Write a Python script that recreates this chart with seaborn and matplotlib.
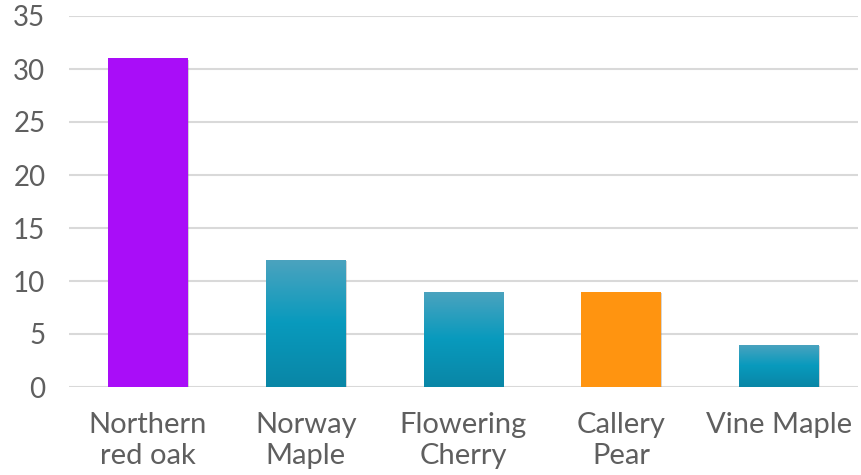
import matplotlib
matplotlib.use("Agg")
import matplotlib.pyplot as plt
import seaborn as sns
import numpy as np
import pandas as pd
from matplotlib import font_manager
from matplotlib.colors import LinearSegmentedColormap
import matplotlib.patheffects as pe

categories = ["Northern\nred oak", "Norway\nMaple", "Flowering\nCherry", "Callery\nPear", "Vine Maple"]
values = [31, 12, 9, 9, 4]
bar_colors = ["#A90DF8", "teal", "teal", "#FF9410", "teal"]
y_ticks = [0, 5, 10, 15, 20, 25, 30, 35]

sns.set_style("white")
names = {f.name for f in font_manager.fontManager.ttflist}
fam = "Lato" if "Lato" in names else "DejaVu Sans"
plt.rcParams['font.family'] = [fam, 'DejaVu Sans']

df = pd.DataFrame({"cat": categories, "val": values})
fig = plt.figure(figsize=(8.61, 4.75), dpi=100)
ax = fig.add_axes([69/861, 1-387/475, (858-69)/861, (387-16)/475])

sns.barplot(data=df, x="cat", y="val", ax=ax, width=0.505, color="#0899BC", zorder=3)
ax.set_ylim(0, 35)
ax.set_xlim(-0.5, 4.5)
ax.set_yticks(y_ticks)
ax.set_xlabel("")
ax.set_ylabel("")
for s in ax.spines.values():
    s.set_visible(False)
ax.grid(axis="y", color="#D9D9D9", linewidth=1.5, zorder=0)
ax.tick_params(axis="y", length=0, pad=17, labelsize=20, labelcolor="#5f5f5f")
ax.tick_params(axis="x", length=0, pad=18, labelsize=21, labelcolor="#5f5f5f")
for lbl in ax.get_xticklabels() + ax.get_yticklabels():
    lbl.set_fontweight("normal")
    lbl.set_linespacing(1.22)

cmap = LinearSegmentedColormap.from_list("tealgrad", [(0, "#0A86A6"), (0.5, "#089ABD"), (1.0, "#4CA3BF")])
grad = np.linspace(0, 1, 256).reshape(-1, 1)
shadow = [pe.SimplePatchShadow(offset=(0.8, -0.8), shadow_rgbFace="#888888", alpha=0.35), pe.Normal()]
for patch, c in zip(ax.patches, bar_colors):
    patch.set_path_effects(shadow)
    if c == "teal":
        x0, y0 = patch.get_x(), patch.get_y()
        w, h = patch.get_width(), patch.get_height()
        im = ax.imshow(grad, extent=[x0, x0 + w, y0, y0 + h], origin="lower",
                       cmap=cmap, aspect="auto", zorder=4)
        im.set_clip_path(patch)
    else:
        patch.set_facecolor(c)
    patch.set_edgecolor("none")
ax.set_xlim(-0.5, 4.5)
ax.set_ylim(0, 35)

fig.savefig("out.png", dpi=100)
